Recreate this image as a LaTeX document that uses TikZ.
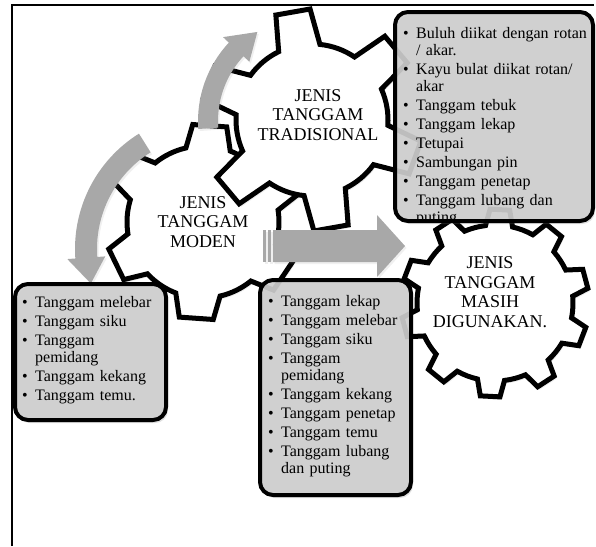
\documentclass[tikz,border=0pt]{standalone}
\usepackage{fontspec}
\setmainfont{Liberation Serif}
\usetikzlibrary{shadows}

\newlength\bltind
\newcommand\li{\par\hangindent=\bltind\hangafter=1\noindent\makebox[\bltind][l]{\textbullet}}
\newcommand\listfont{\fontsize{16}{17}\selectfont\setlength\parskip{2pt}%
  \hyphenpenalty=10000\exhyphenpenalty=10000}

% gear: style, centre, teeth, inner r, outer r, first tooth, half root, half top
\newcommand\drawgear[8]{%
  \draw[#1, shift={(#2)}] ({#6-#7}:#4)
    \foreach \k [evaluate=\k as \a using #6+(\k-1)*360/#3] in {1,...,#3} {
      -- ({\a-#8}:#5) -- ({\a+#8}:#5) -- ({\a+#7}:#4)
      arc[start angle={\a+#7}, end angle={\a+360/#3-#7}, radius=#4]
    } -- cycle;}

% curved arrow: centre, radius, half width, from, head base, tip, head half width
\newcommand\arcarrow[7]{%
  \fill[arrowfill, shift={(#1)}] (#4:{#2+#3})
    arc[start angle=#4, end angle=#5, radius={#2+#3}]
    -- (#5:{#2+#7}) -- (#6:#2) -- (#5:{#2-#7}) -- (#5:{#2-#3})
    arc[start angle=#5, end angle=#4, radius={#2-#3}] -- cycle;}

\begin{document}
\begin{tikzpicture}[x=1pt, y=-1pt,
    frame/.style={line width=1.3},
    gear/.style={draw=black, line width=5, fill=white,
      drop shadow={shadow xshift=2pt, shadow yshift=-3pt, opacity=.15}},
    geartext/.style={align=center, inner sep=0pt, font=\fontsize{18}{19.5}\selectfont},
    arrowfill/.style={fill=black!34,
      drop shadow={shadow xshift=1.5pt, shadow yshift=-2pt, opacity=.12}},
    boxfill/.style={rounded corners=13, fill=black!19, fill opacity=.9,
      drop shadow={shadow xshift=2pt, shadow yshift=-3pt, opacity=.25}},
    boxline/.style={draw=black, line width=4, rounded corners=13},
    listtext/.style={anchor=north west, inner sep=0pt, align=left, font=\listfont,
      execute at begin node={\setlength\bltind{#1}}}
  ]
  \useasboundingbox (0,0) rectangle (596,546);
  \draw[frame] (12,546) -- (12,5) -- (594,5);

  % gears
  \drawgear{gear}{203,222}{6}{76}{98}{-86}{17}{10}
  \node[geartext] (moden) at (203,222) {JENIS\\TANGGAM\\MODEN};
  \drawgear{gear}{495,303}{10}{78}{94}{-15}{10}{6}
  \node[geartext] (masih) at (490,292) {JENIS\\TANGGAM\\MASIH\\DIGUNAKAN.};
  \drawgear{gear}{312,120}{6}{76}{111}{-100}{16}{9}
  \node[geartext] (tradisional) at (318,115) {JENIS\\TANGGAM\\TRADISIONAL};

  % arrows
  \arcarrow{211,249}{125}{11}{-122}{-184}{-196}{19}
  \arcarrow{313,121}{105}{10}{-184}{-137}{-122}{18}
  \fill[arrowfill] (263,230) rectangle (266,262);
  \fill[arrowfill] (268,230) rectangle (271,262);
  \fill[arrowfill] (273,230) -- (377,230) -- (377,215) -- (405,246)
    -- (377,277) -- (377,262) -- (273,262) -- cycle;

  % list boxes
  \fill[boxfill] (395,12) rectangle (593,221);
  \begin{scope}
    \clip[rounded corners=13] (395,12) rectangle (593,221);
    \node[listtext=13pt, text width=184pt] (tradlist) at (403,19) {%
      \li Buluh diikat dengan rotan / akar.
      \li Kayu bulat diikat rotan/ akar
      \li Tanggam tebuk
      \li Tanggam lekap
      \li Tetupai
      \li Sambungan pin
      \li Tanggam penetap
      \li Tanggam lubang dan puting\par};
  \end{scope}
  \draw[boxline] (395,12) rectangle (593,221);

  \fill[boxfill] (15,284) rectangle (166,420);
  \node[listtext=13pt, text width=134pt] (modenlist) at (22,288.4) {%
    \li Tanggam melebar
    \li Tanggam siku
    \li Tanggam pemidang
    \li Tanggam kekang
    \li Tanggam temu.\par};
  \draw[boxline] (15,284) rectangle (166,420);

  \fill[boxfill] (260,280) rectangle (411,495);
  \node[listtext=13pt, text width=134pt] (masihlist) at (268,287.4) {%
    \li Tanggam lekap
    \li Tanggam melebar
    \li Tanggam siku
    \li Tanggam pemidang
    \li Tanggam kekang
    \li Tanggam penetap
    \li Tanggam temu
    \li Tanggam lubang dan puting\par};
  \draw[boxline] (260,280) rectangle (411,495);
\end{tikzpicture}
\end{document}
